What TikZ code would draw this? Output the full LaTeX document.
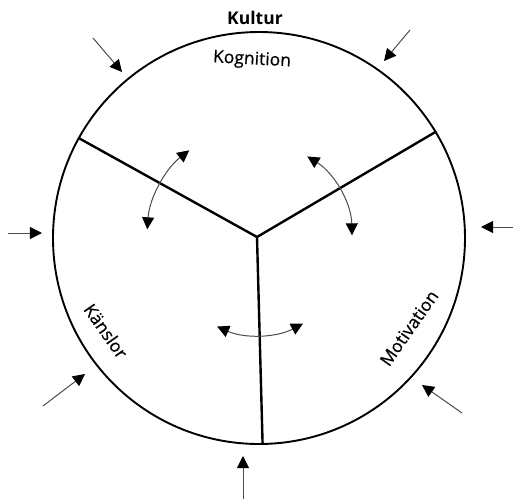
\documentclass[tikz,border=0pt]{standalone}
\usepackage{fontspec}
\setmainfont{Open Sans}
\newfontfamily\lblf{Open Sans}[FakeBold=0.6]
\usetikzlibrary{arrows.meta}
\begin{document}
\begin{tikzpicture}[x=1pt,y=1pt,
  ext/.style={-{Triangle[length=12pt,width=12pt,color=black]}, line width=1pt, draw=black!70},
  swing/.style={{Triangle[length=12pt,width=12pt,color=black]}-{Triangle[length=12pt,width=12pt,color=black]}, line width=1pt, draw=black!70},
  spoke/.style={line width=2.4pt, line cap=round},
  lbl/.style={font=\lblf\fontsize{17.5}{20}\selectfont, inner sep=0pt}]
\useasboundingbox (-259,-261) rectangle (254,238);
% main circle
\node[circle, draw, line width=1.9pt, minimum size=412pt, inner sep=0pt, outer sep=0pt] (c) at (0,0) {};
\coordinate (y) at (-2,1);
% spokes
\draw[spoke] (y) -- (c.151.5);
\draw[spoke] (y) -- (c.31.5);
\draw[spoke] (y) -- (c.-89.3);
% internal swing arrows
\draw[swing] ([shift={(128:110)}]y) arc[start angle=128, end angle=176, radius=110];
\draw[swing] ([shift={(58:95)}]y) arc[start angle=58, end angle=1, radius=95];
\draw[swing] ([shift={(246:98)}]y) arc[start angle=246, end angle=298, radius=98];
% labels
\node[lbl, font=\fontsize{17.5}{20}\selectfont\bfseries] (kultur) at (-4,220) {Kultur};
\node[lbl, rotate=-3] (kog) at (-7,178) {Kognition};
\node[lbl, rotate=-55] (kans) at (-153,-93) {Känslor};
\node[lbl, rotate=55] (mot) at (150,-90) {Motivation};
% external arrows
\coordinate (t1) at (-166,200); \coordinate (h1) at (-137,166);
\coordinate (t2) at (151,208);  \coordinate (h2) at (125,177);
\coordinate (t3) at (-251,5);   \coordinate (h3) at (-217,5);
\coordinate (t4) at (254,11);   \coordinate (h4) at (222,11);
\coordinate (t5) at (-216,-168);\coordinate (h5) at (-174,-136);
\coordinate (t6) at (203,-175); \coordinate (h6) at (163,-147);
\coordinate (t7) at (-16,-261); \coordinate (h7) at (-16,-218);
\foreach \i in {1,...,7} { \draw[ext] (t\i) -- (h\i); }
\end{tikzpicture}
\end{document}
